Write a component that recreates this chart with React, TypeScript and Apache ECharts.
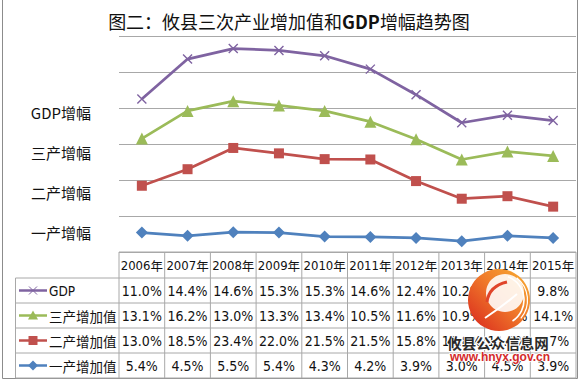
import React, { useEffect, useRef } from 'react';
import * as echarts from 'echarts';

const categories = ['2006年', '2007年', '2008年', '2009年', '2010年', '2011年', '2012年', '2013年', '2014年', '2015年'];
const gdpGrowth = [11.0, 14.4, 14.6, 15.3, 15.3, 14.6, 12.4, 10.2, 10.1, 9.8];
const tertiaryGrowth = [13.1, 16.2, 13.0, 13.3, 13.4, 10.5, 11.6, 10.9, 12.4, 14.1];
const secondaryGrowth = [13.0, 18.5, 23.4, 22.0, 21.5, 21.5, 15.8, 11.8, 11.0, 8.7];
const primaryGrowth = [5.4, 4.5, 5.5, 5.4, 4.3, 4.2, 3.9, 3.0, 4.5, 3.9];
const seriesNames = ['GDP', '三产增加值', '二产增加值', '一产增加值'];
const yLabels = ['GDP增幅', '三产增幅', '二产增幅', '一产增幅'];

const COLORS = { gdp: '#7f63a1', t: '#9bbb59', s: '#c0504d', p: '#4f81bd' };
const GRID = { left: 119, right: 576, top: 36, bottom: 252 };
const LINE_GRAY = '#a8a8a8';
const NUM_FONT = "'Liberation Sans Narrow', 'DejaVu Sans Condensed', 'Noto Sans', sans-serif";
const CJK_FONT = "'Noto Sans CJK SC', sans-serif";

export default function App() {
  const ref = useRef<HTMLDivElement>(null);
  useEffect(() => {
    document.body.style.margin = '0';
    const chart = echarts.init(ref.current!, null, { renderer: 'svg' });

    const colW = (GRID.right - GRID.left) / categories.length;
    const headerTop = GRID.bottom;
    const rowH = 25;
    const headerH = 26;
    const rowsTop = headerTop + headerH;
    const tableBottom = rowsTop + rowH * 4;
    const legendLeft = 15.5;

    const g: any[] = [];
    g.push({ type: 'rect', shape: { x: 2.5, y: -2, width: 575, height: tableBottom + 2.5 }, style: { fill: 'none', stroke: '#8c8c8c', lineWidth: 1 }, z: 1 });

    g.push({
      type: 'text', x: 289, y: 21,
      style: {
        text: '{a|图二：攸县三次产业增加值和}{b|GDP}{a|增幅趋势图}',
        align: 'center', verticalAlign: 'middle',
        rich: {
          a: { fontSize: 18, fontFamily: CJK_FONT, fill: '#111' },
          b: { fontSize: 18, fontFamily: CJK_FONT, fontWeight: 'bold', fill: '#111' },
        },
      },
      z: 5,
    });

    yLabels.forEach((t, i) => {
      g.push({ type: 'text', x: 91, y: 112 + i * 40, style: { text: t, fontSize: 15, fontFamily: CJK_FONT, fill: '#111', align: 'right', verticalAlign: 'middle' }, z: 5 });
    });

    const ln = (x1: number, y1: number, x2: number, y2: number) =>
      g.push({ type: 'line', shape: { x1, y1, x2, y2 }, style: { stroke: LINE_GRAY, lineWidth: 1 }, z: 3 });
    ln(GRID.left, headerTop, GRID.right, headerTop);
    for (let r = 0; r <= 4; r++) ln(legendLeft, rowsTop + r * rowH, GRID.right, rowsTop + r * rowH);
    ln(legendLeft, rowsTop, legendLeft, tableBottom);
    for (let c = 0; c <= categories.length; c++) ln(GRID.left + c * colW, headerTop, GRID.left + c * colW, tableBottom);

    categories.forEach((c, i) => {
      g.push({ type: 'text', x: GRID.left + (i + 0.5) * colW, y: headerTop + headerH / 2 + 0.5, style: { text: '{n|' + c.slice(0, 4) + '}{c|' + c.slice(4) + '}', align: 'center', verticalAlign: 'middle', rich: { n: { fontSize: 13, fontFamily: NUM_FONT, fill: '#111' }, c: { fontSize: 12.5, fontFamily: CJK_FONT, fill: '#111' } } }, z: 4 });
    });

    const rows = [gdpGrowth, tertiaryGrowth, secondaryGrowth, primaryGrowth];
    const rowColors = [COLORS.gdp, COLORS.t, COLORS.s, COLORS.p];
    rows.forEach((vals, r) => {
      const cy = rowsTop + r * rowH + rowH / 2;
      vals.forEach((v, i) => {
        g.push({ type: 'text', x: GRID.left + (i + 0.5) * colW, y: cy + 0.5, style: { text: v.toFixed(1) + '%', fontSize: 14, fontFamily: NUM_FONT, fill: '#111', align: 'center', verticalAlign: 'middle' }, z: 4 });
      });
      const col = rowColors[r];
      g.push({ type: 'line', shape: { x1: 19, y1: cy, x2: 47, y2: cy }, style: { stroke: col, lineWidth: 2.5 }, z: 4 });
      const mx = 33;
      if (r === 0) {
        g.push({ type: 'line', shape: { x1: mx - 4, y1: cy - 4, x2: mx + 4, y2: cy + 4 }, style: { stroke: col, lineWidth: 1 }, z: 5 });
        g.push({ type: 'line', shape: { x1: mx - 4, y1: cy + 4, x2: mx + 4, y2: cy - 4 }, style: { stroke: col, lineWidth: 1 }, z: 5 });
      } else if (r === 1) {
        g.push({ type: 'polygon', shape: { points: [[mx, cy - 5], [mx + 5, cy + 4], [mx - 5, cy + 4]] }, style: { fill: col }, z: 5 });
      } else if (r === 2) {
        g.push({ type: 'rect', shape: { x: mx - 4.5, y: cy - 4.5, width: 9, height: 9 }, style: { fill: col }, z: 5 });
      } else {
        g.push({ type: 'polygon', shape: { points: [[mx, cy - 5], [mx + 5, cy], [mx, cy + 5], [mx - 5, cy]] }, style: { fill: col }, z: 5 });
      }
      g.push({ type: 'text', x: 49, y: cy, style: { text: seriesNames[r], fontSize: 13.5, fontFamily: r === 0 ? NUM_FONT : CJK_FONT, fill: '#111', align: 'left', verticalAlign: 'middle' }, z: 4 });
    });

    // watermark logo
    const lcx = 499, lcy = 300;
    g.push({
      type: 'circle', shape: { cx: lcx, cy: lcy, r: 31 },
      style: { fill: { type: 'linear', x: 1, y: 0, x2: 0, y2: 1, colorStops: [{ offset: 0, color: '#f8b034' }, { offset: 0.45, color: '#f07a2a' }, { offset: 1, color: '#d8241d' }] } },
      z: 20,
    });
    g.push({ type: 'circle', shape: { cx: lcx + 6, cy: lcy - 7, r: 19 }, style: { fill: 'rgba(255,255,255,0.88)' }, z: 21 });
    g.push({ type: 'arc', shape: { cx: lcx, cy: lcy, r: 25, startAngle: -1.2, endAngle: 1.0 }, style: { stroke: '#fff', lineWidth: 1.6, fill: 'none' }, z: 22 });
    g.push({ type: 'arc', shape: { cx: lcx, cy: lcy, r: 28.5, startAngle: -0.9, endAngle: 0.7 }, style: { stroke: '#fff', lineWidth: 1.2, fill: 'none' }, z: 22 });
    g.push({ type: 'bezierCurve', shape: { x1: lcx - 12, y1: lcy + 2, cpx1: lcx - 10, cpy1: lcy - 14, x2: lcx + 8, y2: lcy - 18 }, style: { stroke: '#e0452a', lineWidth: 3, fill: 'none' }, z: 22 });
    g.push({ type: 'bezierCurve', shape: { x1: lcx - 14, y1: lcy + 18, cpx1: lcx + 4, cpy1: lcy + 6, x2: lcx + 18, y2: lcy - 6 }, style: { stroke: '#fff', lineWidth: 2, fill: 'none' }, z: 22 });
    g.push({ type: 'text', x: 498, y: 342, style: { text: '攸县公众信息网', fontSize: 14.5, fontWeight: 'bold', fontFamily: CJK_FONT, fill: '#2a2a2a', stroke: '#fff', lineWidth: 2, align: 'center', verticalAlign: 'middle' }, z: 23 });
    g.push({ type: 'text', x: 500, y: 357, style: { text: 'www.hnyx.gov.cn', fontSize: 12, fontWeight: 'bold', fontFamily: "'Liberation Sans', Arial, sans-serif", fill: '#d42a2a', stroke: '#fff', lineWidth: 1.5, align: 'center', verticalAlign: 'middle' }, z: 23 });

    const mk = (name: string, data: number[], color: string, symbol: string, size: number, extra: any = {}) => ({
      name, type: 'line', stack: 'total', data, symbol, symbolSize: size,
      lineStyle: { color, width: 2.75 },
      itemStyle: { color, ...extra },
      emphasis: { disabled: true },
      z: 3,
    });

    chart.setOption({
      animation: false,
      grid: { left: GRID.left, top: GRID.top, width: GRID.right - GRID.left, height: GRID.bottom - GRID.top },
      xAxis: {
        type: 'category', data: categories, boundaryGap: true,
        axisLine: { show: false }, axisTick: { show: false }, axisLabel: { show: false },
      },
      yAxis: {
        type: 'value', min: 0, max: 60, interval: 10,
        axisLine: { show: false }, axisTick: { show: false }, axisLabel: { show: false },
        splitLine: { lineStyle: { color: LINE_GRAY, width: 1 } },
      },
      series: [
        mk(seriesNames[3], primaryGrowth, COLORS.p, 'diamond', 12),
        mk(seriesNames[2], secondaryGrowth, COLORS.s, 'rect', 10),
        mk(seriesNames[1], tertiaryGrowth, COLORS.t, 'triangle', 12),
        mk(seriesNames[0], gdpGrowth, COLORS.gdp, 'path://M0 0L10 10M10 0L0 10', 9, { borderColor: COLORS.gdp, borderWidth: 1.4 }),
      ],
      graphic: g,
    });
    return () => chart.dispose();
  }, []);
  return <div ref={ref} style={{ width: 580, height: 387 }} />;
}
